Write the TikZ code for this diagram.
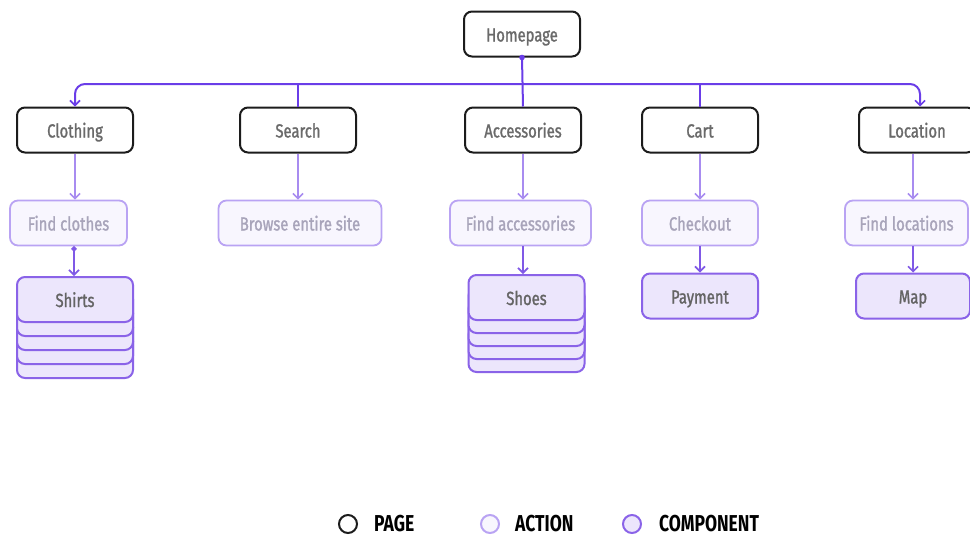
\documentclass[tikz,border=0pt]{standalone}
\usepackage{fontspec}
\setmainfont{Fira Sans}[FakeStretch=0.78, FakeBold=1.3]
\newfontfamily\legendfont{Fira Sans}[FakeStretch=0.76]
\usetikzlibrary{arrows.meta}

\definecolor{pagetext}{HTML}{6A6A6A}
\definecolor{pageline}{HTML}{1C1C1C}
\definecolor{acttext}{HTML}{A8A4BA}
\definecolor{actline}{HTML}{B9A3F3}
\definecolor{actfill}{HTML}{F8F6FE}
\definecolor{comptext}{HTML}{646464}
\definecolor{compline}{HTML}{8A63E8}
\definecolor{compfill}{HTML}{ECE6FC}
\definecolor{busline}{HTML}{6A3DE8}
\definecolor{linkA}{HTML}{A88CF0}
\definecolor{linkB}{HTML}{8059E6}

\tikzset{
  box/.style={rounded corners=8pt, minimum height=45pt, inner sep=0pt,
    font=\fontsize{19}{22}\selectfont, text height=16pt, text depth=1pt},
  pagebox/.style={box, draw=pageline, line width=2pt, fill=white,
    text=pagetext, minimum width=116pt},
  actbox/.style={box, draw=actline, line width=1.8pt, fill=actfill,
    text=acttext},
  compbox/.style={box, draw=compline, line width=2pt, fill=compfill,
    text=comptext, minimum width=116pt},
  bus/.style={draw=busline, line width=2pt},
  barb/.style={-{Straight Barb[length=5pt,width=10pt,line width=1.6pt]}},
  linkone/.style={draw=linkA, line width=1.8pt, barb},
  linktwo/.style={draw=linkB, line width=2pt, barb},
  legdot/.style={circle, minimum size=18pt, inner sep=0pt, line width=2pt},
  legtext/.style={anchor=west, inner sep=0pt, text=black,
    font=\legendfont\bfseries\fontsize{23}{25}\selectfont},
}

\begin{document}
\begin{tikzpicture}[x=1pt, y=-1pt]
  \useasboundingbox (0,0) rectangle (970,539);

  % top-level pages
  \node[pagebox] (hp) at (522,34) {Homepage};
  \node[pagebox] (cloth) at (75,130) {Clothing};
  \node[pagebox] (search) at (298,130) {Search};
  \node[pagebox] (acc) at (523,130) {Accessories};
  \node[pagebox] (cart) at (700,130) {Cart};
  \node[pagebox] (loc) at (917,130) {Location};

  % actions
  \node[actbox, minimum width=117pt] (fclothes) at (68.5,223) {Find clothes};
  \node[actbox, minimum width=163pt] (browse) at (300,223) {Browse entire site};
  \node[actbox, minimum width=141pt] (facc) at (520.5,223) {Find accessories};
  \node[actbox, minimum width=116pt] (checkout) at (700,223) {Checkout};
  \node[actbox, minimum width=123pt] (floc) at (906.5,223) {Find locations};

  % components (stacked cards drawn back to front)
  \foreach \k in {4,3,2,1}
    \node[compbox] (shirts-\k) at (75,{299.5+14*\k}) {};
  \node[compbox] (shirts) at (75,299.5) {Shirts};
  \foreach \k in {4,3,2,1}
    \node[compbox] (shoes-\k) at (526.5,{297.5+13*\k}) {};
  \node[compbox] (shoes) at (526.5,297.5) {Shoes};
  \node[compbox] (payment) at (700,296) {Payment};
  \node[compbox, minimum width=114pt] (map) at (913,296) {Map};

  % homepage bus
  \coordinate (busmid) at (522,84);
  \draw[bus] (hp.south) -- (acc.north);
  \fill[busline] (hp.south) circle (2.8pt);
  \draw[bus, rounded corners=10pt, barb] (busmid) -| (cloth.north);
  \draw[bus, rounded corners=10pt, barb] (busmid) -| ([xshift=3pt]loc.north);
  \draw[bus] (search.north) -- (search.north |- busmid);
  \draw[bus] (cart.north) -- (cart.north |- busmid);

  % page -> action
  \draw[linkone] (cloth.south) -- (cloth.south |- fclothes.north);
  \draw[linkone] (search.south) -- (search.south |- browse.north);
  \draw[linkone] (acc.south) -- (acc.south |- facc.north);
  \draw[linkone] (cart.south) -- (cart.south |- checkout.north);
  \draw[linkone] ([xshift=-4pt]loc.south) -- ([xshift=-4pt]loc.south |- floc.north);

  % action -> component
  \draw[linktwo, {Circle[length=5pt]}-{Straight Barb[length=5pt,width=10pt,line width=1.6pt]}]
    ([xshift=-1pt]cloth.south |- fclothes.south) -- ([xshift=-1pt]cloth.south |- shirts.north);
  \draw[linktwo] (acc.south |- facc.south) -- (acc.south |- shoes.north);
  \draw[linktwo] (checkout.south) -- (checkout.south |- payment.north);
  \draw[linktwo] ([xshift=-4pt]loc.south |- floc.south) -- ([xshift=-4pt]loc.south |- map.north);

  % legend
  \node[legdot, draw=pageline, fill=white] (lgpage) at (348,524) {};
  \node[legtext] (lgpagetxt) at (374,524) {PAGE};
  \node[legdot, draw=actline, fill=actfill] (lgact) at (490,524) {};
  \node[legtext] (lgacttxt) at (515,524) {ACTION};
  \node[legdot, draw=compline, fill=compfill] (lgcomp) at (632,524) {};
  \node[legtext] (lgcomptxt) at (659,524) {COMPONENT};
\end{tikzpicture}
\end{document}
